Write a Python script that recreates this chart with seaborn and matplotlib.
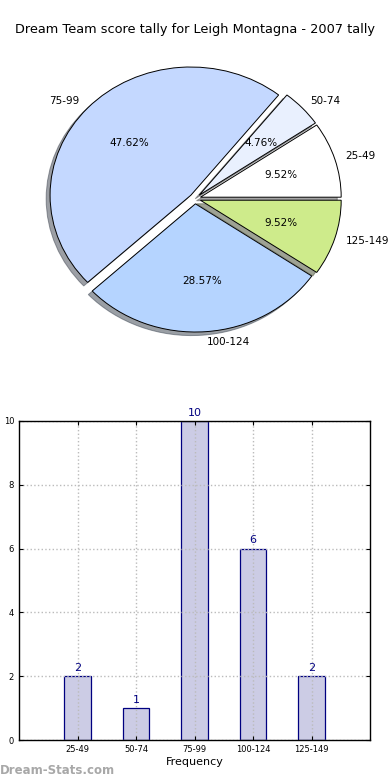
import numpy as np
import pandas as pd
import seaborn as sns
import matplotlib
matplotlib.use('Agg')
import matplotlib.pyplot as plt

# score bands and how often each came up
bands = ['25-49', '50-74', '75-99', '100-124', '125-149']
counts = [2, 1, 10, 6, 2]
pie_colors = ['#ffffff', '#e9f0fe', '#c4d8ff', '#b5d4ff', '#ceeb8b']

fig = plt.figure(figsize=(3.9, 7.8), dpi=100)
W, H = 390.0, 780.0

fig.text(195 / W, 1 - 30 / H, 'Dream Team score tally for Leigh Montagna - 2007 tally',
         ha='center', va='center', fontsize=9.3)

# pie is a bit squashed in the original (no equal aspect)
rx, ry = 140.8, 128.2
cx, cy = 195.0, 198.7
hx, hy = rx * 1.25, ry * 1.25
ax1 = fig.add_axes([(cx - hx) / W, (H - cy - hy) / H, 2 * hx / W, 2 * hy / H])
wedges, texts, autotexts = ax1.pie(counts, labels=bands, colors=pie_colors,
                                   autopct='%1.2f%%', startangle=0, labeldistance=1.08,
                                   explode=[0.04] * len(counts), shadow=True,
                                   wedgeprops=dict(edgecolor='black', linewidth=0.7),
                                   textprops=dict(fontsize=7.5))
ax1.set_xlim(-1.25, 1.25)
ax1.set_ylim(-1.25, 1.25)
ax1.set_aspect('auto')
ax1.axis('off')

# bar chart
ax2 = fig.add_axes([19 / W, (H - 740) / H, (370 - 19) / W, (740 - 421) / H])
df = pd.DataFrame({'band': bands, 'count': counts})
sns.barplot(data=df, x='band', y='count', ax=ax2, width=0.45,
            color='#cccce5', edgecolor='#000080', linewidth=0.9,
            saturation=1)
for i, c in enumerate(counts):
    ax2.text(i, c + 0.1, str(c), ha='center', va='bottom', color='#000080', fontsize=8)
ax2.set_xlim(-1, 5)
ax2.set_ylim(0, 10)
ax2.set_yticks([0, 2, 4, 6, 8, 10])
ax2.tick_params(labelsize=6, length=3, direction='in', top=True, right=True)
ax2.set_axisbelow('line')
ax2.grid(True, linestyle=':', color='#bbbbbb', linewidth=1)
for s in ax2.spines.values():
    s.set_color('black')
    s.set_linewidth(1)
ax2.set_xlabel('Frequency', fontsize=8, labelpad=2)
ax2.set_ylabel('Number of times', fontsize=8)
ax2.yaxis.set_label_coords(-0.062, 0.485)

fig.text(0 / W, 1 - 770 / H, 'Dream-Stats.com', ha='left', va='center',
         fontsize=8.5, color='#a8a8a8', fontweight='bold')

fig.savefig('out.png', dpi=100)
